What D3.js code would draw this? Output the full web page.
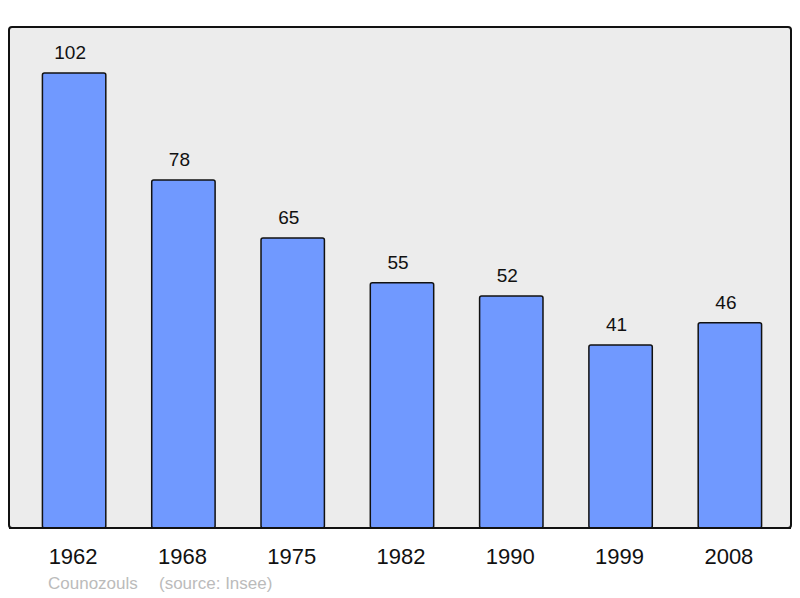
<!DOCTYPE html>
<html>
<head>
<meta charset="utf-8">
<script src="https://cdn.jsdelivr.net/npm/d3@7"></script>
<style>
  body { margin: 0; background: #fff; }
  text { font-family: "Liberation Sans", Arial, sans-serif; }
</style>
</head>
<body>
<svg id="chart" width="800" height="598"></svg>
<script>
var years = ["1962", "1968", "1975", "1982", "1990", "1999", "2008"];
var population = [102, 78, 65, 55, 52, 41, 46];
var commune = "Counozouls";
var source = "(source: Insee)";

var svg = d3.select("#chart");

var frame = { left: 9, top: 27, right: 791, bottom: 528 };

// band scale over the whole frame, bars take ~58% of a step
var x = d3.scaleBand()
    .domain(years)
    .range([frame.left + 5, frame.right - 1])
    .paddingInner(0.42)
    .paddingOuter(0.26);

var y = d3.scaleLinear()
    .domain([0, 112.3])
    .range([frame.bottom, frame.top]);

svg.append("rect")
    .attr("x", frame.left)
    .attr("y", frame.top)
    .attr("width", frame.right - frame.left)
    .attr("height", frame.bottom - frame.top)
    .attr("rx", 3)
    .attr("fill", "#ececec")
    .attr("stroke", "#111")
    .attr("stroke-width", 2);

var data = years.map(function(yr, i) { return { year: yr, value: population[i] }; });

svg.selectAll("rect.bar")
    .data(data)
    .enter().append("rect")
    .attr("class", "bar")
    .attr("x", function(d) { return x(d.year); })
    .attr("y", function(d) { return y(d.value); })
    .attr("width", x.bandwidth())
    .attr("height", function(d) { return frame.bottom - y(d.value); })
    .attr("rx", 2)
    .attr("fill", "#7099ff")
    .attr("stroke", "#111")
    .attr("stroke-width", 1.5);

// redraw bottom border over bar bottoms
svg.append("line")
    .attr("x1", frame.left).attr("x2", frame.right)
    .attr("y1", frame.bottom).attr("y2", frame.bottom)
    .attr("stroke", "#111")
    .attr("stroke-width", 2);

svg.selectAll("text.val")
    .data(data)
    .enter().append("text")
    .attr("class", "val")
    .attr("x", function(d) { return x(d.year) + x.bandwidth() / 2 - 4; })
    .attr("y", function(d) { return y(d.value) - 14; })
    .attr("text-anchor", "middle")
    .attr("font-size", 19)
    .attr("fill", "#111")
    .text(function(d) { return d.value; });

svg.selectAll("text.year")
    .data(years)
    .enter().append("text")
    .attr("class", "year")
    .attr("x", function(d) { return x(d) + x.bandwidth() / 2 - 1; })
    .attr("y", 564)
    .attr("text-anchor", "middle")
    .attr("font-size", 22)
    .attr("fill", "#111")
    .text(function(d) { return d; });

svg.append("text")
    .attr("x", 48)
    .attr("y", 589)
    .attr("font-size", 17)
    .attr("fill", "#bbb")
    .text(commune);

svg.append("text")
    .attr("x", 159)
    .attr("y", 589)
    .attr("font-size", 17)
    .attr("fill", "#bbb")
    .text(source);
</script>
</body>
</html>
